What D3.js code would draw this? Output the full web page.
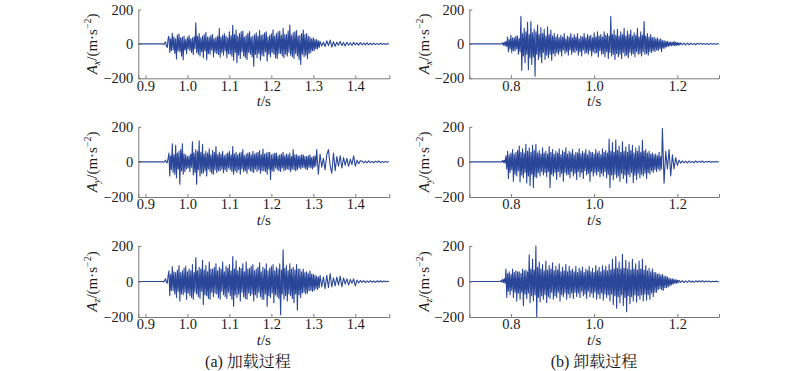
<!DOCTYPE html>
<html>
<head>
<meta charset="utf-8">
<script src="https://cdn.jsdelivr.net/npm/d3@7"></script>
<style>
  body { margin: 0; background: #fff; }
</style>
</head>
<body>
<svg id="chart" width="800" height="371"></svg>
<script>
// accelerations in m/s^2; burst sampled every 0.002 s, tail every 0.004 s
let burstStep = 0.002;
let tailStep = 0.004;

let loadDomain = [0.883, 1.481];
let unloadDomain = [0.70, 1.30];
let loadTicks = [0.9, 1.0, 1.1, 1.2, 1.3, 1.4];
let unloadTicks = [0.8, 1.0, 1.2];
let accTicks = [-200, 0, 200];
let axisNames = ['x', 'y', 'z'];
let captions = ['(a) 加载过程', '(b) 卸载过程'];

// (a) loading
let loadAxBurstStart = 0.944;
let loadAxBurst = [-4,6,12,-15,-20,30,
  45,-50,30,-38, 62,-35,40,-55, 30,-88,52,-40, 58,-45,35,-70, 40,-92,45,-35,
  25,-55,38,-30, 48,-40,30,-50, 35,-62,42,-28, 123,-50,45,-60, 60,-70,35,-45,
  45,-80,55,-40, 68,-92,40,-55, 40,-60,50,-35, 55,-75,30,-48, 38,-55,45,-62,
  90,-78,40,-50, 50,-65,60,-40, 45,-80,35,-55, 70,-60,48,-72, 108,-95,55,-50,
  80,-110,45,-65, 60,-85,70,-45, 75,-70,40,-80, 50,-90,62,-50, 72,-60,40,-75,
  45,-130,55,-60, 65,-80,45,-55, 78,-95,50,-65, 55,-70,65,-45, 70,-100,40,-60,
  50,-75,58,-50, 82,-60,45,-80, 60,-85,70,-55, 75,-55,50,-70, 90,-80,55,-60,
  55,-70,75,-50, 110,-65,50,-75, 65,-85,70,-55, 78,-70,45,-90, 50,-120,60,-60,
  80,-75,55,-65, 60,-85,45,-55, 40,-50,30,-40, 35,-40,25,-30, 25,-30,18,-20];
let loadAxTailStart = 1.316;
let loadAxTail = [15,-12, 10,-15, 18,-10, 22,-18, 12,-14, 10,-8, 14,-10, 8,-12, 10,-8, 7,-9,
  9,-6, 6,-7, 8,-5, 5,-6, 6,-5, 4,-5, 5,-4, 3,-4, 4,-3, 2,-3, 2,-2];

let loadAyBurstStart = 0.944;
let loadAyBurst = [-2,3,10,-2,-5,20,
  50,-80,35,-45, 103,-60,40,-70, 95,-90,50,-40, 60,-127,70,-50, 103,-70,45,-55,
  40,-40,30,-35, 35,-55,45,-30, 115,-75,50,-60, 70,-127,60,-45, 120,-80,55,-65,
  100,-65,45,-50, 60,-80,50,-40, 75,-55,40,-65, 65,-70,55,-45, 88,-60,40,-50,
  55,-50,45,-40, 60,-62,35,-45, 45,-55,50,-35, 60,-45,40,-55, 88,-70,45,-50,
  55,-60,40,-45, 50,-70,55,-40, 70,-55,35,-50, 45,-65,50,-40, 55,-50,40,-55,
  60,-60,45,-40, 50,-55,55,-45, 65,-65,40,-50, 73,-50,45,-55, 50,-70,55,-40,
  55,-100,40,-50, 45,-55,50,-35, 50,-45,35,-50, 40,-55,45,-35, 55,-50,35,-45,
  45,-40,40,-45, 50,-55,30,-40, 70,-45,40,-50, 40,-45,35,-35, 35,-40,40,-30,
  40,-35,30,-40, 30,-45,35,-30, 40,-35,25,-40, 30,-30,35,-25];
let loadAyTailStart = 1.308;
let loadAyTail = [70,-70, 45,-30, 20,-45, 40,70, -20,-65, 50,-50, 30,-25, 35,-35, 25,-20, 20,-25,
  15,-15, 35,-25, 10,-10, 6,
  5,-6, 4,-5, 6,-4, 3,-5, 4,-3, 5,-4, 2,-3, 3,-2, 2];

let loadAzBurstStart = 0.944;
let loadAzBurst = [-3,8,15,-5,-10,30,
  60,-80,40,-50, 84,-50,55,-70, 50,-90,65,-55, 90,-110,50,-70, 60,-75,75,-60,
  85,-100,55,-65, 70,-80,60,-90, 95,-100,50,-60, 135,-70,60,-85, 80,-95,70,-55,
  120,-130,65,-75, 90,-80,55,-95, 110,-100,70,-60, 70,-85,80,-65, 100,-70,60,-90,
  80,-100,70,-55, 110,-75,55,-85, 85,-95,75,-60, 95,-80,60,-100, 140,-140,70,-75,
  116,-90,60,-70, 80,-110,75,-60, 100,-85,55,-95, 110,-100,70,-65, 75,-80,85,-70,
  95,-110,60,-75, 70,-90,80,-60, 105,-85,55,-100, 80,-100,70,-70, 100,-140,60,-80,
  75,-90,85,-65, 95,-120,60,-75, 80,-85,70,-95, 100,-187,65,-70, 178,-100,75,-80,
  90,-110,60,-70, 100,-80,70,-95, 80,-120,65,-70, 95,-160,70,-75, 70,-90,55,-65,
  70,-60,50,-70, 55,-65,45,-50, 60,-50,40,-55, 40,-50,35,-40, 30,-45,25,-35];
let loadAzTailStart = 1.316;
let loadAzTail = [35,-30, 25,-40, 35,-35, 45,-30, 20,-25, 25,-20, 30,-30, 20,-15, 15,-20, 12,-10,
  15,-25, 8,-8,
  6,-5, 5,-6, 4,-5, 5,-4, 3,-5, 4,-3, 4,-3, 3,-2, 2,-2];

// (b) unloading
let unloadAxBurstStart = 0.780;
let unloadAxBurst = [6,-8,10,-12,15,-15,
  40,-45,25,-30, 50,-50,35,-40, 35,-40,45,-30, 45,-60,30,-45, 160,-155,60,-70,
  90,-110,70,-60, 125,-150,55,-80, 130,-120,65,-75, 85,-188,70,-60, 110,-90,55,-75,
  95,-110,60,-50, 85,-90,45,-65, 100,-80,55,-60, 80,-95,45,-55, 60,-70,40,-50,
  55,-60,35,-45, 50,-70,40,-35, 60,-55,30,-45, 45,-65,40,-35, 60,-60,35,-45,
  55,-50,40,-40, 60,-65,30,-45, 45,-70,40,-35, 60,-55,35,-50, 55,-60,45,-40,
  50,-70,35,-45, 65,-55,40,-50, 70,-75,45,-40, 55,-60,40,-55, 70,-75,50,-45,
  60,-85,45,-50, 160,-70,55,-60, 80,-90,50,-55, 85,-75,45,-60, 70,-85,55,-50,
  90,-70,45,-65, 75,-80,55,-50, 80,-65,45,-55, 65,-75,50,-45, 90,-60,40,-55,
  70,-70,50,-45, 130,-60,45,-55, 60,-65,40,-45, 55,-50,35,-40, 40,-45,30,-35,
  35,-40,25,-30, 30,-45,20,-25, 20,-25,15,-18, 15,-15,10,-12, 12,-10,8,-9,
  15,-12,9,-8, 8,-8,6,-6];
let unloadAxTailStart = 1.208;
let unloadAxTail = [6,-5, 5,-6, 4,-5, 5,-4, 3,-5, 4,-3, 4,-3, 3,-4, 2,-3, 3,-2, 2,-2, 1,0];

let unloadAyBurstStart = 0.780;
let unloadAyBurst = [8,-3,10,-8,35,-40,60,-95,
  40,-60,50,-45, 70,-110,45,-70, 55,-80,65,-50, 90,-115,55,-75, 75,-90,50,-60,
  100,-120,60,-80, 80,-135,55,-70, 95,-146,65,-85, 100,-90,50,-60, 65,-80,45,-55,
  80,-75,50,-60, 60,-85,45,-55, 88,-146,55,-70, 70,-80,45,-60, 60,-100,50,-55,
  75,-85,40,-65, 65,-110,55,-60, 80,-75,45,-70, 60,-90,50,-55, 70,-80,40,-65,
  55,-100,50,-55, 75,-85,45,-60, 60,-95,50,-50, 70,-75,40,-65, 65,-110,55,-55,
  55,-80,45,-60, 70,-75,50,-55, 60,-85,40,-65, 75,-80,55,-55, 65,-90,50,-70,
  130,-146,60,-75, 110,-100,55,-70, 125,-90,65,-80, 90,-110,55,-65, 115,-95,60,-75,
  85,-120,55,-70, 100,-85,65,-60, 95,-118,50,-75, 80,-100,60,-65, 90,-90,55,-70,
  125,-80,60,-65, 70,-95,50,-60, 60,-70,45,-50, 50,-60,40,-45, 45,-55,35,-40,
  55,-50,30,-40];
let unloadAyTailStart = 1.164;
let unloadAyTail = [190,-122, 60,-40, 70,-80, 40,-40, 25,-20, 10,-8,
  6,-5, 4,-6, 5,-4, 3,-5, 6,-4, 4,-3, 5,-4, 3,-2, 4,-3, 2,-2, 3,-1, 1];

let unloadAzBurstStart = 0.776;
let unloadAzBurst = [5,-3,12,-6,15,-10,
  70,-90,45,-55, 55,-75,40,-50, 70,-90,50,-60, 60,-110,55,-65, 55,-100,45,-60,
  70,-137,60,-70, 65,-95,55,-65, 150,-120,70,-80, 125,-110,65,-75, 200,-200,80,-90,
  110,-115,70,-80, 95,-100,60,-75, 115,-118,65,-85, 90,-95,70,-60, 105,-100,60,-80,
  85,-90,65,-60, 100,-110,55,-75, 80,-85,60,-65, 95,-100,55,-70, 85,-90,60,-65,
  70,-95,55,-60, 85,-85,50,-65, 75,-90,60,-55, 80,-80,50,-70, 70,-95,60,-55,
  85,-85,55,-65, 75,-90,50,-60, 90,-100,60,-70, 80,-95,55,-65, 90,-105,65,-70,
  85,-90,60,-75, 95,-110,65,-70, 125,-130,70,-80, 140,-150,75,-85, 110,-120,70,-75,
  153,-135,75,-90, 120,-170,70,-80, 110,-125,65,-85, 125,-110,70,-75, 100,-115,65,-80,
  115,-100,70,-75, 125,-110,65,-70, 90,-105,60,-75, 75,-100,55,-65, 70,-85,50,-60,
  50,-60,40,-45, 45,-40,35,-45, 40,-50,30,-35, 30,-35,25,-30, 20,-25,15,-20,
  15,-15,12,-10, 10,-10,8,-7];
let unloadAzTailStart = 1.204;
let unloadAzTail = [6,-5, 5,-6, 4,-5, 5,-4, 3,-5, 4,-3, 4,-3, 5,-4, 3,-2, 3,-3, 2,-2, 2,-1, 0];

let lineColour = '#2a4699';
let axisColour = '#7a7a7a';
let serif = '"Liberation Serif", "Times New Roman", "Noto Serif CJK SC", serif';

let svg = d3.select('#chart');

let columns = [
  { xRange: [138.3, 389.3], domain: loadDomain, ticks: loadTicks, titleX: 92,
    caption: captions[0], captionX: 248,
    series: [
      [loadAxBurstStart, loadAxBurst, loadAxTailStart, loadAxTail],
      [loadAyBurstStart, loadAyBurst, loadAyTailStart, loadAyTail],
      [loadAzBurstStart, loadAzBurst, loadAzTailStart, loadAzTail]] },
  { xRange: [469.3, 719], domain: unloadDomain, ticks: unloadTicks, titleX: 424,
    caption: captions[1], captionX: 594,
    series: [
      [unloadAxBurstStart, unloadAxBurst, unloadAxTailStart, unloadAxTail],
      [unloadAyBurstStart, unloadAyBurst, unloadAyTailStart, unloadAyTail],
      [unloadAzBurstStart, unloadAzBurst, unloadAzTailStart, unloadAzTail]] }
];

let rows = [
  { yRange: [78.3, 9.5] },
  { yRange: [197, 126.8] },
  { yRange: [317, 246] }
];

columns.forEach((col, ci) => {
  let x = d3.scaleLinear().domain(col.domain).range(col.xRange);

  rows.forEach((row, ri) => {
    let y = d3.scaleLinear().domain([-200, 200]).range(row.yRange);
    let g = svg.append('g');

    let [bStart, burst, tStart, tail] = col.series[ri];
    // quiet record before the burst sits on zero
    let pts = [[col.domain[0], 0], [bStart - burstStep, 0]]
      .concat(burst.map((v, i) => [bStart + i * burstStep, v]))
      .concat(tail.map((v, i) => [tStart + i * tailStep, v]));

    let line = d3.line().x((d) => x(d[0])).y((d) => y(d[1]));

    g.append('path')
      .attr('d', line(pts))
      .attr('fill', 'none')
      .attr('stroke', lineColour)
      .attr('stroke-width', 1.1)
      .attr('stroke-linejoin', 'round');

    let xAxis = g.append('g')
      .attr('transform', `translate(0,${row.yRange[0]})`)
      .call(d3.axisBottom(x).tickValues(col.ticks).tickFormat(d3.format('.1f'))
        .tickSizeInner(-3).tickSizeOuter(-3).tickPadding(2));

    let yAxis = g.append('g')
      .attr('transform', `translate(${col.xRange[0]},0)`)
      .call(d3.axisLeft(y).tickValues(accTicks).tickFormat((d) => d < 0 ? '\u2212' + Math.abs(d) : d)
        .tickSizeInner(-3).tickSizeOuter(0).tickPadding(5));

    [xAxis, yAxis].forEach((a) => {
      a.attr('font-family', serif).attr('font-size', 14.5);
      a.selectAll('path, line').attr('stroke', axisColour);
      a.selectAll('text').attr('fill', '#1a1a1a');
    });

    // t/s under each panel
    let tl = g.append('text')
      .attr('x', (col.xRange[0] + col.xRange[1]) / 2)
      .attr('y', row.yRange[0] + 28)
      .attr('text-anchor', 'middle')
      .attr('font-family', serif)
      .attr('font-size', 15)
      .attr('fill', '#1a1a1a');
    tl.append('tspan').attr('font-style', 'italic').text('t');
    tl.append('tspan').text('/s');

    // rotated y title
    let cy = (row.yRange[0] + row.yRange[1]) / 2;
    let yl = g.append('text')
      .attr('transform', `translate(${col.titleX},${cy}) rotate(-90)`)
      .attr('text-anchor', 'middle')
      .attr('dy', '0.35em')
      .attr('font-family', serif)
      .attr('font-size', 15)
      .attr('fill', '#1a1a1a');
    yl.append('tspan').attr('font-style', 'italic').text('A');
    yl.append('tspan').attr('font-style', 'italic').attr('font-size', 10).attr('dy', 3).text(axisNames[ri]);
    yl.append('tspan').attr('dy', -3).text('/(m·s');
    yl.append('tspan').attr('font-size', 10).attr('dy', -6).text('\u22122');
    yl.append('tspan').attr('dy', 6).text(')');
  });

  svg.append('text')
    .attr('x', col.captionX)
    .attr('y', 367)
    .attr('text-anchor', 'middle')
    .attr('font-family', serif)
    .attr('font-size', 16)
    .attr('fill', '#1a1a1a')
    .text(col.caption);
});
</script>
</body>
</html>
